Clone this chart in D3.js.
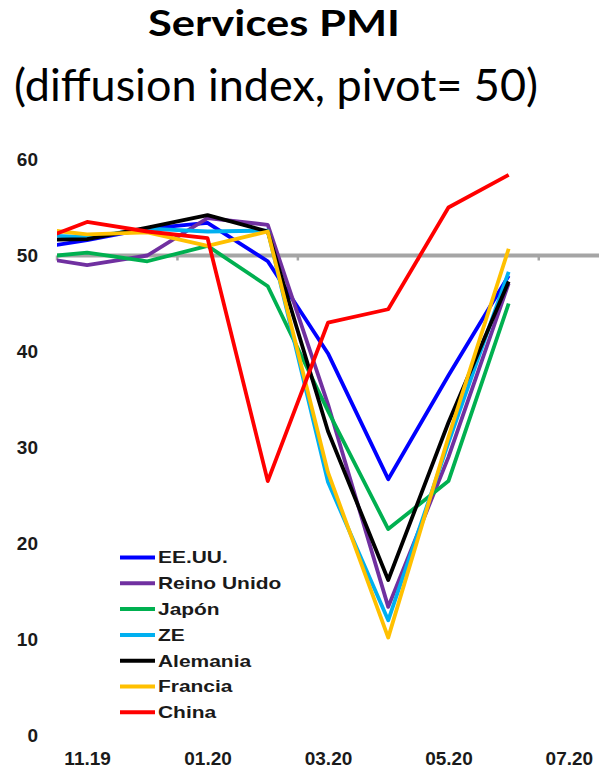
<!DOCTYPE html>
<html>
<head>
<meta charset="utf-8">
<script src="https://cdn.jsdelivr.net/npm/d3@7/dist/d3.min.js"></script>
<style>
  html, body { margin: 0; padding: 0; background: #fff; }
  svg { display: block; }
</style>
</head>
<body>
<div id="chart"></div>
<script>
// Monthly services PMI readings (Oct 2019 - Jun 2020)
const months = ["10.19","11.19","12.19","01.20","02.20","03.20","04.20","05.20","06.20","07.20"];
const tickLabels = ["11.19","01.20","03.20","05.20","07.20"];
const yTicks = [0, 10, 20, 30, 40, 50, 60];
const pivot = 50;

const seriesNames = ["EE.UU.","Reino Unido","Japón","ZE","Alemania","Francia","China"];
const seriesColors = ["#0000ff","#7030a0","#00b050","#00b0f0","#000000","#ffc000","#ff0000"];

const usa     = [50.6, 51.6, 52.8, 53.4, 49.4, 39.8, 26.7, 37.5, 47.9];
const uk      = [50.0, 49.0, 50.0, 53.9, 53.2, 34.5, 13.4, 29.0, 47.1];
const japan   = [49.7, 50.3, 49.4, 51.0, 46.8, 33.8, 21.5, 26.5, 45.0];
const eurozone= [52.2, 51.9, 52.8, 52.5, 52.6, 26.4, 12.0, 30.5, 48.3];
const germany = [51.6, 51.7, 52.9, 54.2, 52.5, 31.7, 16.2, 32.6, 47.3];
const france  = [52.9, 52.2, 52.4, 51.0, 52.5, 27.4, 10.2, 31.1, 50.7];
const china   = [51.1, 53.5, 52.5, 51.8, 26.5, 43.0, 44.4, 55.0, 58.4];

const seriesValues = [usa, uk, japan, eurozone, germany, france, china];

const W = 603, H = 770;
const plotLeft = 57, plotRight = 599;
const step = (plotRight - plotLeft) / 9;   // Nov..Jul visible
const axisFont = "'Liberation Sans', Arial, sans-serif";
const titleFont = "Lato, 'Open Sans', sans-serif";

const svg = d3.select("#chart").append("svg")
  .attr("width", W).attr("height", H);

// Titles
svg.append("text")
  .attr("x", 148).attr("y", 35.5)
  .attr("textLength", 252).attr("lengthAdjust", "spacingAndGlyphs")
  .style("font-family", titleFont)
  .style("font-weight", 700).style("font-size", "35.5px")
  .attr("fill", "#000")
  .text("Services PMI");

svg.append("text")
  .attr("x", 14).attr("y", 101)
  .attr("textLength", 524).attr("lengthAdjust", "spacingAndGlyphs")
  .style("font-family", titleFont)
  .style("font-weight", 400).style("font-size", "44px")
  .attr("fill", "#000")
  .text("(diffusion index, pivot= 50)");

// Scales
const x = d3.scalePoint()
  .domain(months)
  .range([plotLeft - step / 2, plotRight - step / 2]);

const y = d3.scaleLinear()
  .domain([0, 60])
  .range([735.5, 159.5]);

// Y axis labels
const yAxis = d3.axisLeft(y).tickValues(yTicks).tickSize(0).tickPadding(0).tickFormat(d3.format("d"));
const gy = svg.append("g").attr("transform", "translate(38,0)").call(yAxis);
gy.select(".domain").remove();
gy.selectAll("text")
  .style("font-family", axisFont).style("font-weight", 700).style("font-size", "19px")
  .attr("fill", "#1a1a1a");

// X axis labels
const xAxis = d3.axisBottom(x).tickValues(tickLabels).tickSize(0).tickPadding(0);
const gx = svg.append("g").attr("transform", "translate(0,751.5)").call(xAxis);
gx.select(".domain").remove();
gx.selectAll("text")
  .style("font-family", axisFont).style("font-weight", 700).style("font-size", "19px")
  .attr("fill", "#1a1a1a");

// Pivot line at 50 with tick marks at category boundaries
const grey = "#a5a5a5";
svg.append("line")
  .attr("x1", plotLeft).attr("x2", plotRight)
  .attr("y1", y(pivot)).attr("y2", y(pivot))
  .attr("stroke", grey).attr("stroke-width", 4);

svg.append("g").selectAll("line")
  .data(tickLabels)
  .join("line")
  .attr("x1", d => x(d) - step / 2).attr("x2", d => x(d) - step / 2)
  .attr("y1", y(pivot)).attr("y2", y(pivot) + 5)
  .attr("stroke", grey).attr("stroke-width", 2.5);

// Clip so the October segment begins at the plot edge
svg.append("defs").append("clipPath").attr("id", "plot-clip")
  .append("rect")
  .attr("x", plotLeft).attr("y", 0)
  .attr("width", plotRight - plotLeft).attr("height", H);

const line = d3.line()
  .x((d, i) => x(months[i]))
  .y(d => y(d));

const gLines = svg.append("g").attr("clip-path", "url(#plot-clip)");
seriesValues.forEach((vals, k) => {
  gLines.append("path")
    .datum(vals)
    .attr("d", line)
    .attr("fill", "none")
    .attr("stroke", seriesColors[k])
    .attr("stroke-width", 3.8)
    .attr("stroke-linejoin", "round");
});

// Legend
const legend = svg.append("g");
seriesNames.forEach((name, k) => {
  const cy = 557.5 + k * 25.8;
  legend.append("line")
    .attr("x1", 120).attr("x2", 155)
    .attr("y1", cy).attr("y2", cy)
    .attr("stroke", seriesColors[k]).attr("stroke-width", 4);
  legend.append("text")
    .attr("transform", `translate(158,${cy + 5.8}) scale(1.27,1)`)
    .style("font-family", axisFont).style("font-weight", 700).style("font-size", "16.5px")
    .attr("fill", "#1a1a1a")
    .text(name);
});
</script>
</body>
</html>
